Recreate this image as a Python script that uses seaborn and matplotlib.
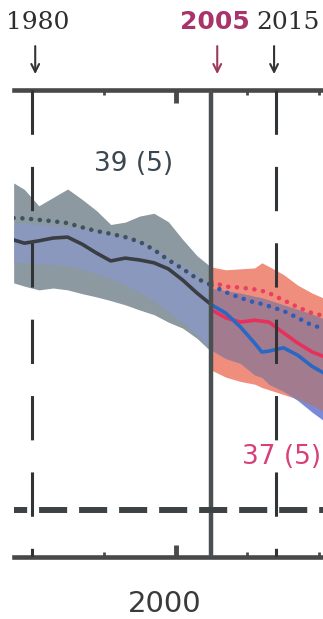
import numpy as np
import pandas as pd
import seaborn as sns
import matplotlib
matplotlib.use("Agg")
import matplotlib.pyplot as plt
import matplotlib.transforms as mtransforms

# historical period (grey envelope), 1977.5-2005
hist_years = [1977.5, 1979, 1981, 1983, 1985, 1987, 1989, 1991, 1993, 1995, 1997, 1999, 2001, 2003, 2005]
hist_mean = [6.79, 6.72, 6.77, 6.83, 6.85, 6.70, 6.51, 6.34, 6.40, 6.36, 6.30, 6.17, 5.93, 5.65, 5.40]
hist_dotted = [7.26, 7.25, 7.22, 7.19, 7.15, 7.06, 6.98, 6.92, 6.85, 6.75, 6.58, 6.36, 6.17, 5.96, 5.82]
hist_upper = [8.01, 7.87, 7.52, 7.70, 7.88, 7.66, 7.42, 7.12, 7.17, 7.30, 7.36, 7.18, 6.80, 6.45, 6.20]
hist_lower = [5.87, 5.80, 5.72, 5.76, 5.72, 5.64, 5.57, 5.49, 5.40, 5.29, 5.19, 5.03, 4.90, 4.68, 4.39]
hist_inner_upper = [7.17, 7.15, 7.12, 7.10, 7.07, 7.03, 6.98, 6.92, 6.85, 6.77, 6.62, 6.42, 6.25, 6.05, 5.82]
hist_inner_lower = [6.32, 6.30, 6.28, 6.26, 6.24, 6.16, 6.07, 5.96, 5.83, 5.67, 5.48, 5.25, 5.03, 4.75, 4.43]

# projections after 2005
proj_years = [2005, 2007, 2009, 2011, 2012, 2013, 2015, 2017, 2019, 2020.5]
red_mean = [5.29, 5.12, 5.03, 5.07, 5.05, 5.03, 4.80, 4.58, 4.39, 4.30]
blue_mean = [5.40, 5.22, 4.93, 4.58, 4.39, 4.41, 4.48, 4.32, 4.08, 3.95]
red_dotted = [5.89, 5.79, 5.77, 5.73, 5.70, 5.65, 5.50, 5.35, 5.22, 5.17]
blue_dotted = [5.82, 5.67, 5.55, 5.45, 5.42, 5.37, 5.27, 5.12, 4.96, 4.90]
red_upper = [6.21, 6.15, 6.17, 6.19, 6.30, 6.22, 6.05, 5.82, 5.65, 5.55]
red_lower = [4.00, 3.85, 3.76, 3.70, 3.63, 3.58, 3.48, 3.38, 3.25, 3.13]
blue_upper = [5.75, 5.70, 5.65, 5.58, 5.55, 5.50, 5.40, 5.30, 5.20, 5.10]
blue_lower = [4.43, 4.25, 4.15, 3.90, 3.85, 3.70, 3.55, 3.35, 3.10, 2.93]

ice_free = 1.0
marker_years = [1980, 2014]
split_year = 2005

sns.set_style("white")
plt.rcParams["font.family"] = ["DejaVu Sans"]

W, H = 323, 619
fig = plt.figure(figsize=(W / 100, H / 100), dpi=100)
ax = fig.add_axes([14 / W, 62 / H, (W - 14) / W, 467 / H])

# envelopes
ax.fill_between(hist_years, hist_lower, hist_upper, color="#8c99a0", lw=0, zorder=1)
ax.fill_between(hist_years, hist_inner_lower, hist_inner_upper, color="#8b98d8", alpha=0.55, lw=0, zorder=2)
ax.fill_between(proj_years, red_lower, red_upper, color="#f08e7e", lw=0, zorder=1)
ax.fill_between(proj_years, blue_lower, blue_upper, color="#7a8ad6", lw=0, zorder=1)
# where the two projection envelopes overlap
ov_lo = np.maximum(red_lower, blue_lower)
ov_hi = np.minimum(red_upper, blue_upper)
ax.fill_between(proj_years, ov_lo, ov_hi, color="#a27c8e", lw=0, zorder=2)

dot_style = (0, (0.01, 1.9))
sns.lineplot(x=hist_years, y=hist_dotted, ax=ax, color="#3e5260", lw=3.3,
             linestyle=dot_style, dash_capstyle="round", zorder=4)
sns.lineplot(x=hist_years, y=hist_mean, ax=ax, color="#3a3e42", lw=2.6, zorder=4)
sns.lineplot(x=proj_years, y=red_dotted, ax=ax, color="#e8405e", lw=3.3,
             linestyle=dot_style, dash_capstyle="round", zorder=4)
sns.lineplot(x=proj_years, y=blue_dotted, ax=ax, color="#2e5cb8", lw=3.3,
             linestyle=dot_style, dash_capstyle="round", zorder=4)
sns.lineplot(x=proj_years, y=red_mean, ax=ax, color="#e8305c", lw=2.6, zorder=5)
sns.lineplot(x=proj_years, y=blue_mean, ax=ax, color="#2a68c4", lw=2.6, zorder=5)

# reference lines
for yr in marker_years:
    ax.plot([yr, yr], [10, 0], color="#303436", lw=2.2,
            linestyle=(0, (14.5, 10.5)), zorder=6)
ax.axvline(split_year, color="#4a4f52", lw=3.2, zorder=6)
ax.axhline(ice_free, color="#3c4244", lw=4.3, linestyle=(2.5, (4.7, 2.0)), zorder=6)

ax.set_xlim(1977.55, 2020.5)
ax.set_ylim(0, 10)
ax.set_xlabel("")
ax.set_ylabel("")
ax.set_yticks([])
ax.set_xticks([2000])
ax.set_xticklabels(["2000"], fontsize=21, color="#3a3a3a")
ax.set_xticks([1980, 1990, 2010, 2020], minor=True)
ax.tick_params(axis="x", which="major", direction="in", top=True, bottom=True,
               length=9, width=3.5, color="#4a4a4a", pad=24)
ax.tick_params(axis="x", which="minor", direction="in", top=True, bottom=True,
               length=3.5, width=2, color="#4a4a4a")
shift = mtransforms.ScaledTranslation(-11 / 100, 0, fig.dpi_scale_trans)
for lab in ax.get_xticklabels():
    lab.set_transform(lab.get_transform() + shift)

for side in ["left", "right"]:
    ax.spines[side].set_visible(False)
for side in ["top", "bottom"]:
    ax.spines[side].set_linewidth(3.3)
    ax.spines[side].set_color("#484848")

# annotations above the axes
tr = mtransforms.blended_transform_factory(ax.transData, ax.transAxes)
ax.text(1980.8, 1.1456, "1980", transform=tr, ha="center", va="center",
        fontsize=18, family="DejaVu Serif", color="#2e2e2e", clip_on=False)
ax.text(2005.5, 1.1456, "2005", transform=tr, ha="center", va="center",
        fontsize=18, fontweight="bold", color="#a8346a", clip_on=False)
ax.text(2015.6, 1.1456, "2015", transform=tr, ha="center", va="center",
        fontsize=18, family="DejaVu Serif", color="#2e2e2e", clip_on=False)
for yr, col in [(1980.5, "#333333"), (2005.8, "#9c3a5a"), (2013.7, "#333333")]:
    ax.annotate("", xy=(yr, 1.034), xytext=(yr, 1.094), xycoords=tr, textcoords=tr,
                arrowprops=dict(arrowstyle="->", color=col, lw=1.5,
                                mutation_scale=14, shrinkA=0, shrinkB=0),
                annotation_clip=False)

ax.text(1994.2, 8.42, "39 (5)", ha="center", va="center", fontsize=19, color="#3a4650")
ax.text(2009.2, 2.14, "37 (5)", ha="left", va="center", fontsize=19, color="#d8407a")

fig.savefig("out.png", dpi=100)
